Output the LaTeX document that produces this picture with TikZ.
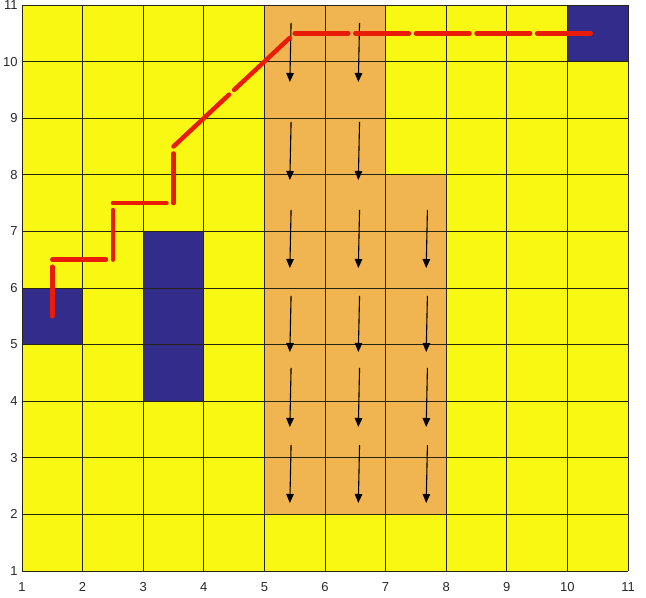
\documentclass[tikz,border=0pt]{standalone}
\usepackage{fontspec}
\setmainfont{Liberation Sans}
\usetikzlibrary{arrows.meta}
\definecolor{cellyellow}{RGB}{249,248,18}
\definecolor{cellblue}{RGB}{50,44,138}
\definecolor{cellorange}{RGB}{240,180,80}
\definecolor{pathred}{RGB}{232,28,8}
\definecolor{gridcol}{RGB}{40,36,20}
\definecolor{ticktext}{RGB}{40,40,40}
\begin{document}
\begin{tikzpicture}[x=60.6pt,y=56.6pt,
  gridline/.style={draw=gridcol,line width=0.9pt},
  flow/.style={draw=black,line width=1.1pt,-{Triangle[length=9pt,width=7.5pt]}},
  route/.style={draw=pathred,line width=4.5pt,line cap=round,shorten >=7pt},
  ticklab/.style={font=\fontsize{13}{14}\selectfont,text=ticktext,inner sep=0pt}]
\useasboundingbox (0.637,0.523) rectangle (11.297,11.088);
% background cells
\fill[cellyellow] (1,1) rectangle (11,11);
\fill[cellorange] (5,2) rectangle (7,11);
\fill[cellorange] (7,2) rectangle (8,8);
\fill[cellblue] (1,5) rectangle (2,6);
\fill[cellblue] (3,4) rectangle (4,7);
\fill[cellblue] (10,10) rectangle (11,11);
% grid
\foreach \i in {1,...,11} {
  \draw[gridline] (\i,1) -- (\i,11);
  \draw[gridline] (1,\i) -- (11,\i);
}
% tick labels
\foreach \i in {1,...,11} {
  \node[ticklab,anchor=center] (xl\i) at (\i,0.717) {\i};
  \node[ticklab,anchor=east] (yl\i) at (0.93,\i) {\i};
}
% flow arrows
\foreach \s/\e in {10.682/9.640, 8.933/7.908, 7.378/6.353, 5.859/4.869, 4.587/3.544, 3.226/2.201} {
  \draw[flow] (5.44,\s) -- (5.42,\e);
  \draw[flow] (6.57,\s) -- (6.55,\e);
}
\foreach \s/\e in {7.378/6.353, 5.859/4.869, 4.587/3.544, 3.226/2.201} {
  \draw[flow] (7.69,\s) -- (7.67,\e);
}
% route
\foreach \a/\b/\c/\d in {1.5/5.5/1.5/6.5, 1.5/6.5/2.5/6.5, 2.5/6.5/2.5/7.5, 2.5/7.5/3.5/7.5,
  3.5/7.5/3.5/8.5, 3.5/8.5/4.5/9.5, 4.5/9.5/5.5/10.5, 5.5/10.5/6.5/10.5, 6.5/10.5/7.5/10.5,
  7.5/10.5/8.5/10.5, 8.5/10.5/9.5/10.5, 9.5/10.5/10.5/10.5} {
  \draw[route] (\a,\b) -- (\c,\d);
}
\end{tikzpicture}
\end{document}
